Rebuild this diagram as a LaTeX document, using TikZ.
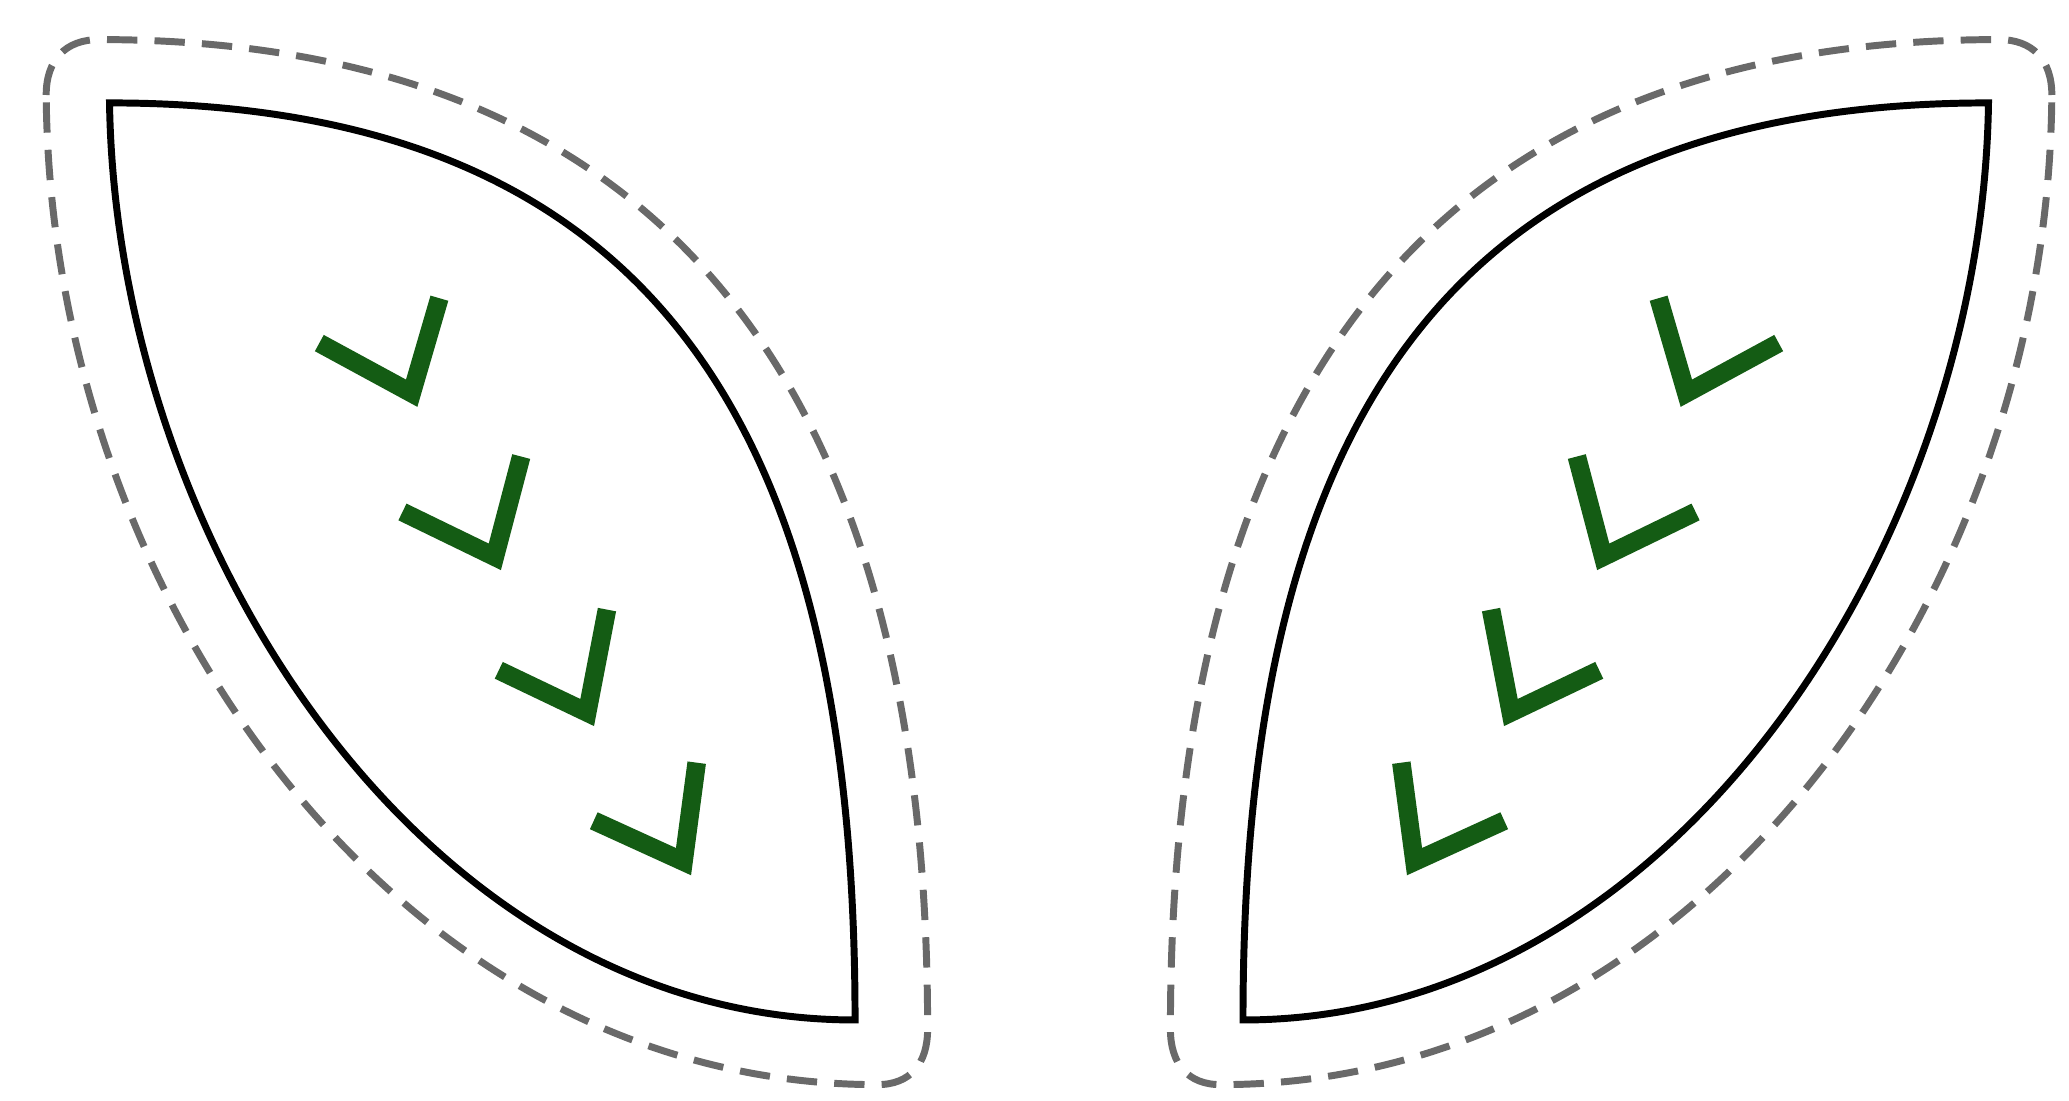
\documentclass[tikz,border=0pt]{standalone}
\definecolor{checkgreen}{RGB}{20,92,20}
\definecolor{halogray}{RGB}{105,105,105}
\tikzset{
  leafline/.style={line width=1.5pt, black, line join=miter},
  halo/.style={line width=1.5pt, halogray, dash pattern=on 2.3mm off 1.3mm},
  tick/.style={line width=4pt, checkgreen, line join=miter},
}
\newcommand\drawleafpart{%
  \draw[halo] (35,72) .. controls (35,45) and (50,30) .. (75,30)
     .. controls (540,30) and (703,340) .. (703,780)
     .. controls (703,806) and (690,822) .. (665,822)
     .. controls (300,822) and (38,450) .. (35,72) -- cycle;
  \draw[leafline] (83,78) .. controls (500,78) and (648,330) .. (648,773)
     .. controls (320,773) and (88,410) .. (83,78) -- cycle;
  \draw[tick] (242,260) -- (312,298) -- (333,226);
  \draw[tick] (305,388) -- (375,422) -- (395,346);
  \draw[tick] (378,508) -- (445,540) -- (460,462);
  \draw[tick] (450,622) -- (518,653) -- (528,578);
}
\begin{document}
\begin{tikzpicture}[x=0.1mm,y=-0.1mm]
  \useasboundingbox[fill=white] (0,0) rectangle (1568,834);
  \begin{scope}
    \drawleafpart
  \end{scope}
  \begin{scope}[shift={(1590,0)}, xscale=-1]
    \drawleafpart
  \end{scope}
\end{tikzpicture}
\end{document}
